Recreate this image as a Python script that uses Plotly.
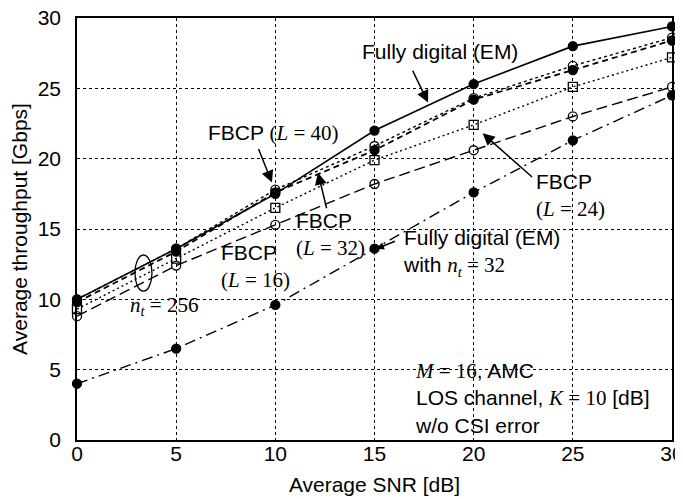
import plotly.graph_objects as go

snr = [0, 5, 10, 15, 20, 25, 30]

fully_digital = [10.0, 13.6, 17.5, 22.0, 25.3, 28.0, 29.4]
fbcp_l40 = [10.0, 13.6, 17.8, 20.9, 24.3, 26.6, 28.6]
fbcp_l32 = [9.8, 13.4, 17.6, 20.6, 24.2, 26.3, 28.4]
fbcp_l24 = [9.3, 12.9, 16.5, 19.9, 22.4, 25.1, 27.2]
fbcp_l16 = [8.8, 12.4, 15.3, 18.2, 20.6, 23.0, 25.1]
fully_digital_nt32 = [4.0, 6.5, 9.6, 13.6, 17.6, 21.3, 24.5]

SANS = "Liberation Sans, Arial, sans-serif"
FS = 21

def math(s):
    return "<span style='font-family:Liberation Serif'>" + s + "</span>"

fig = go.Figure()

def add(y, dash, symbol, name, width=1.4):
    fig.add_trace(go.Scatter(
        x=snr, y=y, mode="lines+markers", name=name,
        line=dict(color="black", width=width, dash=dash),
        marker=dict(symbol=symbol, size=9, color="black",
                    line=dict(color="black", width=1.3)),
        cliponaxis=False,
    ))

add(fbcp_l16, "11px,5px", "circle-open", "FBCP L=16")
add(fbcp_l24, "2px,3px", "square-open", "FBCP L=24")
add(fully_digital_nt32, "11px,5px,2px,5px", "circle", "Fully digital nt=32")
add(fbcp_l32, "6px,4px", "circle", "FBCP L=32", 1.8)
add(fbcp_l40, "3px,3px", "circle-open", "FBCP L=40")
add(fully_digital, "solid", "circle", "Fully digital (EM)", 1.6)

ann = []
def text(x, y, s, xanchor="center", align="center"):
    ann.append(dict(x=x, y=y, text=s, showarrow=False, xanchor=xanchor,
                    yanchor="middle", align=align, borderpad=0,
                    font=dict(family=SANS, size=FS, color="black")))

def arrow(x, y, ax, ay, size=1.0):
    ann.append(dict(x=x, y=y, ax=ax, ay=ay, text="", showarrow=True,
                    arrowhead=2, arrowsize=size, arrowwidth=1.5,
                    arrowcolor="black"))

text(18.3, 27.6, "Fully digital (EM)")
arrow(17.7, 24.0, -16, -33, 1.6)

text(9.93, 21.8, "FBCP " + math("(<i>L</i> = 40)"))
arrow(9.83, 18.3, -14, -35, 1.6)

text(11.0, 14.6, "FBCP<br>" + math("(<i>L</i> = 32)"), xanchor="left", align="left")
arrow(12.15, 19.0, 9, 37, 1.6)

text(23.1, 17.4, "FBCP<br>" + math("(<i>L</i> = 24)"), xanchor="left", align="left")
arrow(20.45, 21.8, 51, 45, 1.6)

text(7.2, 12.36, "FBCP<br>" + math("(<i>L</i> = 16)"), xanchor="left", align="left")

text(16.4, 13.3, "Fully digital (EM)<br>with " + math("<i>n<sub>t</sub></i> = 32"),
     xanchor="left", align="left")
arrow(15.1, 13.6, 20, -8, 1.0)

text(2.6, 9.5, math("<i>n<sub>t</sub></i> = 256"), xanchor="left", align="left")

text(17.0, 3.0, math("<i>M</i> = 16") + ", AMC<br>LOS channel, " + math("<i>K</i> = 10") +
     " [dB]<br>w/o CSI error", xanchor="left", align="left")

fig.add_shape(type="circle", x0=2.92, x1=3.78, y0=10.58, y1=13.15,
              line=dict(color="black", width=1.3))

grid = dict(showgrid=True, gridcolor="black", griddash="dot", gridwidth=1,
            showline=True, linecolor="black", linewidth=1.5, mirror=True,
            ticks="", zeroline=False, automargin=False,
            ticklabeloverflow="allow",
            tickfont=dict(family=SANS, size=FS, color="black"))

# page has an 8px body margin, so the figure is a bit smaller than the window
fig.update_layout(
    width=675, height=491,
    margin=dict(l=69, r=11, t=10, b=59),
    plot_bgcolor="white", paper_bgcolor="white",
    showlegend=False,
    annotations=ann,
    xaxis=dict(range=[0, 30], dtick=5, ticklabelstandoff=-6,
               title=dict(text="Average SNR [dB]", standoff=13,
                          font=dict(family=SANS, size=FS, color="black")),
               **grid),
    yaxis=dict(range=[0, 30], dtick=5, ticklabelstandoff=10,
               title=dict(text="Average throughput [Gbps]", standoff=8,
                          font=dict(family=SANS, size=FS, color="black")),
               **grid),
)

fig.write_html("out.html")
